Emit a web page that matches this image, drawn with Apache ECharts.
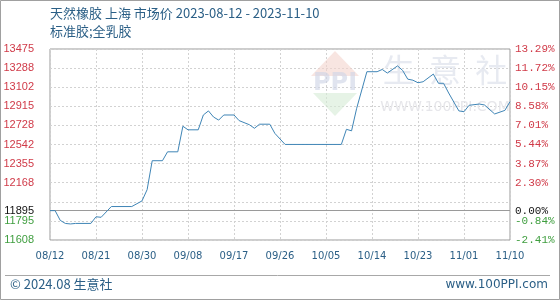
<!DOCTYPE html>
<html>
<head>
<meta charset="utf-8">
<script src="https://cdn.jsdelivr.net/npm/echarts@6/dist/echarts.min.js"></script>
<style>
html,body{margin:0;padding:0;background:#fff;}
#c{width:560px;height:300px;}
</style>
</head>
<body>
<div id="c"></div>
<script>
// ---- data ----
const startDate = '2023-08-12';
const dates = ['2023-08-12','2023-08-13','2023-08-14','2023-08-15','2023-08-16','2023-08-17','2023-08-20','2023-08-21','2023-08-22','2023-08-24','2023-08-28','2023-08-30','2023-08-31','2023-09-01','2023-09-03','2023-09-04','2023-09-06','2023-09-07','2023-09-08','2023-09-10','2023-09-11','2023-09-12','2023-09-13','2023-09-14','2023-09-15','2023-09-17','2023-09-18','2023-09-20','2023-09-21','2023-09-22','2023-09-24','2023-09-25','2023-09-27','2023-10-08','2023-10-09','2023-10-10','2023-10-11','2023-10-13','2023-10-15','2023-10-16','2023-10-17','2023-10-19','2023-10-20','2023-10-21','2023-10-22','2023-10-23','2023-10-24','2023-10-26','2023-10-27','2023-10-28','2023-10-29','2023-10-31','2023-11-01','2023-11-02','2023-11-04','2023-11-05','2023-11-07','2023-11-09','2023-11-10'];
const prices = [11895,11895,11800,11770,11765,11770,11770,11835,11830,11935,11935,11990,12100,12383,12383,12470,12470,12720,12685,12685,12830,12870,12810,12780,12830,12830,12775,12735,12700,12740,12740,12650,12542,12542,12690,12675,12895,13253,13253,13275,13240,13310,13265,13180,13170,13145,13155,13230,13140,13140,13045,12870,12862,12925,12937,12928,12840,12875,12960];
const basePrice = 11895;
const xLabels = ['08/12','08/21','08/30','09/08','09/17','09/26','10/05','10/14','10/23','11/01','11/10'];
const leftLabels = ['11608','11795','','12168','12355','12542','12728','12915','13102','13288','13475'];
const rightLabels = ['-2.41%','-0.84%','','2.30%','3.87%','5.44%','7.01%','8.58%','10.15%','11.72%','13.29%'];
const yMin = 11608, yMax = 13475;

const DAY = 86400000;
const t0 = Date.parse(startDate + 'T00:00:00Z');
const seriesData = dates.map((d, i) => [Math.round((Date.parse(d + 'T00:00:00Z') - t0) / DAY), prices[i]]);
const xMax = (xLabels.length - 1) * 9;

const RED = '#d03a48', GREEN = '#3f9e3f', BLUE = '#2b5f86';
const leftFont = 'Liberation Sans';
const rightFont = 'Liberation Mono';

function colorFor(i) { return i >= 3 ? RED : GREEN; }

const chart = echarts.init(document.getElementById('c'), null, {renderer: 'canvas'});
chart.setOption({
  animation: false,
  backgroundColor: '#fff',
  grid: {left: 50, right: 50, top: 49, bottom: 60, show: true, borderColor: '#9a9a9a', borderWidth: 1, backgroundColor: 'transparent'},
  xAxis: {
    type: 'value', min: 0, max: xMax, interval: 9,
    axisLine: {show: false}, axisTick: {show: false},
    splitLine: {show: true, lineStyle: {color: '#d2d2d2', type: [2, 2], width: 1}},
    axisLabel: {
      margin: 11, color: BLUE, fontSize: 10, fontFamily: 'DejaVu Sans',
      formatter: v => xLabels[Math.round(v / 9)] || ''
    }
  },
  yAxis: [
    {type: 'value', min: yMin, max: yMax, show: false, splitLine: {show: false}},
    {
      type: 'value', min: 0, max: 10, interval: 1, position: 'left',
      axisLine: {show: false}, axisTick: {show: false},
      splitLine: {show: true, lineStyle: {color: '#d2d2d2', type: [2, 2], width: 1}},
      axisLabel: {
        margin: 16, fontSize: 11, fontFamily: leftFont,
        formatter: v => leftLabels[Math.round(v)],
        color: (v, i) => colorFor(Math.round(parseFloat(v)))
      }
    },
    {
      type: 'value', min: 0, max: 10, interval: 1, position: 'right',
      axisLine: {show: false}, axisTick: {show: false}, splitLine: {show: false},
      axisLabel: {
        margin: 5, fontSize: 11, fontFamily: rightFont,
        formatter: v => rightLabels[Math.round(v)],
        color: (v, i) => colorFor(Math.round(parseFloat(v)))
      }
    }
  ],
  series: [{
    type: 'line', yAxisIndex: 0, data: seriesData, showSymbol: false, symbol: 'none',
    lineStyle: {color: '#3f85b6', width: 1}, z: 5,
    markLine: {
      silent: true, symbol: 'none', animation: false,
      lineStyle: {color: '#9a9a9a', type: 'solid', width: 1},
      data: [
        {yAxis: basePrice, label: {show: true, position: 'start', distance: 16, formatter: String(basePrice), color: '#111', fontSize: 11, fontFamily: leftFont}},
        {yAxis: basePrice, label: {show: true, position: 'end', distance: 5, formatter: '0.00%', color: '#111', fontSize: 11, fontFamily: rightFont}}
      ]
    }
  }],
  graphic: [
    {type: 'rect', shape: {x: 0.5, y: 0.5, width: 559, height: 299}, style: {fill: 'none', stroke: '#a0a0a0', lineWidth: 1}, z: 0, silent: true},
    {type: 'text', left: 50, top: 7, style: {text: '天然橡胶 上海 市场价 2023-08-12 - 2023-11-10', fill: BLUE, font: '13px "Noto Sans CJK SC", "DejaVu Sans"'}},
    {type: 'text', left: 50, top: 25, style: {text: '标准胶;全乳胶', fill: BLUE, font: '13px "Noto Sans CJK SC", "DejaVu Sans"'}},
    {type: 'line', shape: {x1: 5, y1: 275.5, x2: 550, y2: 275.5}, style: {stroke: '#a8a8a8', lineWidth: 1}},
    {type: 'text', left: 10, top: 278, style: {text: '© 2024.08 生意社', fill: BLUE, font: '13px "Noto Sans CJK SC", "DejaVu Sans"'}},
    {type: 'text', right: 12, top: 279, style: {text: 'www.100PPI.com', fill: BLUE, font: '12px "DejaVu Sans"'}},
    // watermark
    {type: 'polygon', shape: {points: [[311, 76], [335, 51], [359, 76]]}, style: {fill: '#f4d3cd', opacity: 0.6}, z: 1, silent: true},
    {type: 'text', x: 335, y: 84, style: {text: 'PPI', fill: '#cfd6e6', font: 'bold 24px "DejaVu Sans"', textAlign: 'center', textVerticalAlign: 'middle', opacity: 0.65}, z: 1, silent: true},
    {type: 'polygon', shape: {points: [[313, 93], [357, 93], [335, 116]]}, style: {fill: '#d6ebd6', opacity: 0.6}, z: 1, silent: true},
    {type: 'text', x: 445, y: 70, style: {text: '生  意  社', fill: '#dfe3ec', font: '32px "Noto Sans CJK SC"', textAlign: 'center', textVerticalAlign: 'middle', opacity: 0.75}, z: 1, silent: true},
    {type: 'text', x: 445, y: 107, style: {text: 'WWW.100PPI.COM', fill: '#e6e6ea', font: '14px "DejaVu Sans"', textAlign: 'center', textVerticalAlign: 'middle'}, z: 1, silent: true}
  ]
});
</script>
</body>
</html>
